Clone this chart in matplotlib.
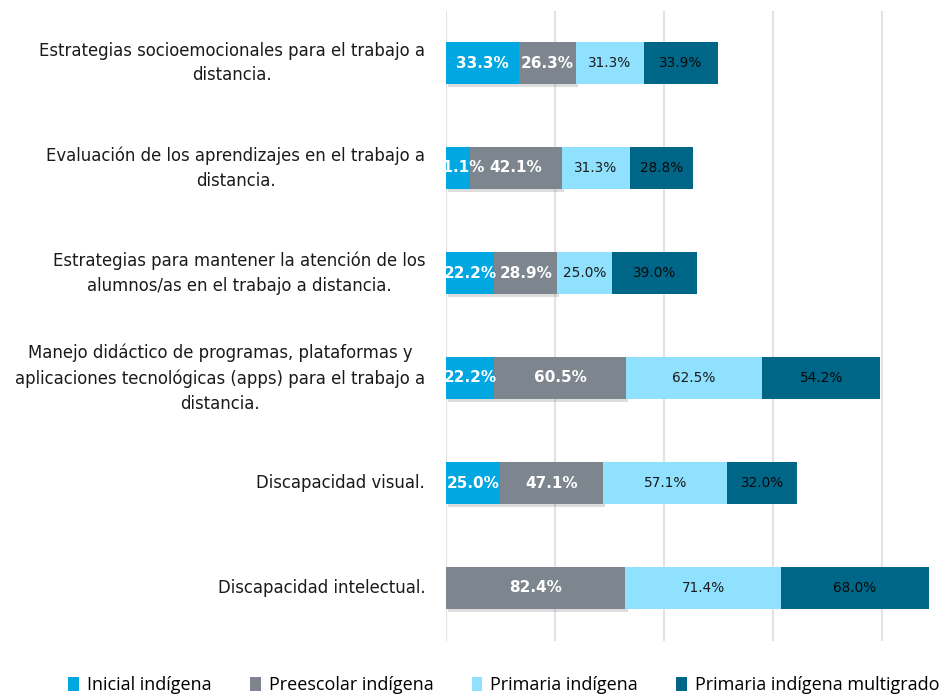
import matplotlib
matplotlib.use("Agg")
import matplotlib.pyplot as plt
import matplotlib.patheffects as pe
from matplotlib.patches import Patch
import numpy as np

categories = [
    "Estrategias socioemocionales para el trabajo a\ndistancia.",
    "Evaluación de los aprendizajes en el trabajo a\ndistancia.",
    "Estrategias para mantener la atención de los\nalumnos/as en el trabajo a distancia.",
    "Manejo didáctico de programas, plataformas y\naplicaciones tecnológicas (apps) para el trabajo a\ndistancia.",
    "Discapacidad visual.",
    "Discapacidad intelectual.",
]
series_names = ["Inicial indígena", "Preescolar indígena", "Primaria indígena",
                "Primaria indígena multigrado"]
inicial = [33.3, 11.1, 22.2, 22.2, 25.0, 0.0]
preescolar = [26.3, 42.1, 28.9, 60.5, 47.1, 82.4]
primaria = [31.3, 31.3, 25.0, 62.5, 57.1, 71.4]
multigrado = [33.9, 28.8, 39.0, 54.2, 32.0, 68.0]

colors = ["#00A7E1", "#7D868E", "#8FE1FE", "#006687"]
text_colors = ["white", "white", "#1a1a1a", "#0a0a0a"]
text_sizes = [11, 11, 9.8, 9.8]
text_weights = ["bold", "bold", "normal", "normal"]

fig = plt.figure(figsize=(9.43, 6.94), dpi=100)
ax = fig.add_axes([446 / 943, 1 - 640.5 / 694, 1 - 446 / 943, 630 / 694])

y = np.arange(len(categories))
left = np.zeros(len(categories))
all_series = [inicial, preescolar, primaria, multigrado]
for i, (vals, name) in enumerate(zip(all_series, series_names)):
    vals = np.array(vals)
    bars = ax.barh(y, vals, left=left, height=0.4, color=colors[i], zorder=3)
    if i < 2:
        for b in bars:
            b.set_path_effects([pe.SimplePatchShadow(offset=(1.5, -2.5), shadow_rgbFace="#666666",
                                                     alpha=0.22), pe.Normal()])
    for j, v in enumerate(vals):
        if v > 0:
            ax.text(left[j] + v / 2, y[j], f"{v:.1f}%", ha="center", va="center",
                    color=text_colors[i], fontsize=text_sizes[i],
                    fontweight=text_weights[i], zorder=5, clip_on=True)
    left = left + vals

ax.set_xlim(0, 497 / 2.1775)
ax.set_ylim(len(categories) - 0.5, -0.5)
ax.set_xticks([0, 50, 100, 150, 200])
ax.xaxis.grid(True, color="#E3E3E6", linewidth=1.5, zorder=0)
ax.tick_params(axis="x", length=0, labelbottom=False)
ax.tick_params(axis="y", length=0)
ax.set_yticks(y)
ax.set_yticklabels([])
for s in ax.spines.values():
    s.set_visible(False)

for j, c in enumerate(categories):
    ax.annotate(c, xy=(0, y[j]), xycoords="data", xytext=(-15, 0),
                textcoords="offset points", ha="right", va="center",
                multialignment="center", fontsize=11.9, color="#1a1a1a",
                linespacing=1.5)

handles = [Patch(facecolor=c, edgecolor="none") for c in colors]
fig.legend(handles, series_names, loc="center", bbox_to_anchor=(504 / 943, 1 - 685 / 694),
           ncol=4, frameon=False, handlelength=0.6, handleheight=0.8,
           handletextpad=0.45, columnspacing=2.1, prop={"family": "Open Sans", "size": 13})

fig.savefig("out.png", dpi=100)
